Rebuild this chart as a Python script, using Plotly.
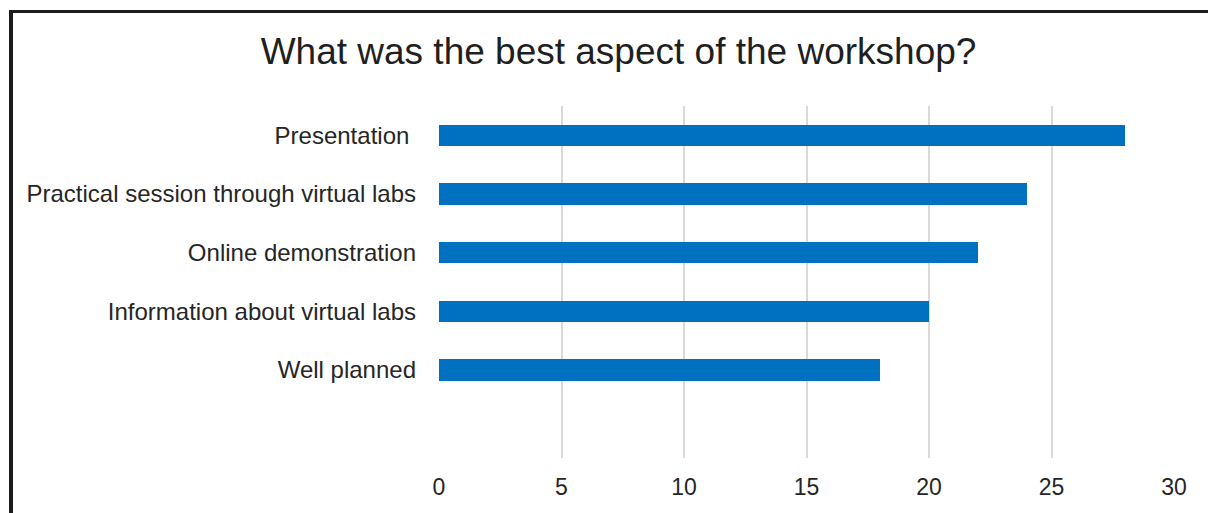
import plotly.graph_objects as go

categories = ["Well planned", "Information about virtual labs", "Online demonstration",
              "Practical session through virtual labs", "Presentation\u00a0"]
values = [18, 20, 22, 24, 28]
x_ticks = [0, 5, 10, 15, 20, 25, 30]

W, H = 1208, 513
L, R, T, B = 439, 1174, 106, 458  # plot area in pixels

fig = go.Figure(go.Bar(
    x=values, y=categories, orientation="h",
    marker=dict(color="#0070C0", line=dict(width=0)),
    width=0.36,
))

def px_x(p):
    return (p - L) / (R - L)

def px_y(p):
    return (B - p) / (B - T)

fig.update_layout(
    width=W, height=H,
    margin=dict(l=L, r=W - R, t=T, b=H - B, pad=0),
    paper_bgcolor="white", plot_bgcolor="white",
    font=dict(family="Liberation Sans, Arial, sans-serif", size=23, color="#262626"),
    title=dict(text="What was the best aspect of the workshop?",
               x=618.5 / W, xref="container", xanchor="center",
               y=1 - 51 / H, yref="container", yanchor="middle",
               font=dict(size=37, color="#1f1f1f")),
    xaxis=dict(range=[0, 30], tickvals=x_ticks, showgrid=True, gridcolor="#d9d9d9",
               gridwidth=2, zeroline=False, showline=False, ticks="",
               ticklabelstandoff=13, fixedrange=True, tickfont=dict(size=23)),
    yaxis=dict(categoryorder="array", categoryarray=categories, range=[-1.5, 4.5],
               showgrid=False, zeroline=False, showline=False, ticks="",
               ticklabelstandoff=22, tickfont=dict(size=24)),
    showlegend=False,
    bargap=0,
    shapes=[
        dict(type="rect", xref="paper", yref="paper",
             x0=px_x(9), x1=px_x(13), y0=px_y(520), y1=px_y(10),
             fillcolor="#1c1c1c", line=dict(width=0), layer="above"),
        dict(type="rect", xref="paper", yref="paper",
             x0=px_x(9), x1=px_x(1215), y0=px_y(13), y1=px_y(10),
             fillcolor="#1c1c1c", line=dict(width=0), layer="above"),
    ],
)

fig.write_html("out.html")
